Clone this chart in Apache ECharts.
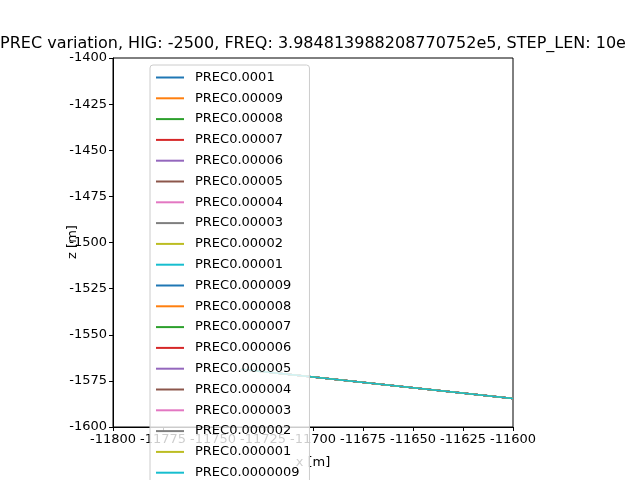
<!DOCTYPE html>
<html>
<head>
<meta charset="utf-8">
<script src="https://cdn.jsdelivr.net/npm/echarts@6/dist/echarts.min.js"></script>
<style>html,body{margin:0;padding:0;background:#fff}#chart{width:640px;height:480px}</style>
</head>
<body>
<div id="chart"></div>
<script>
var precNames = ['PREC0.0001','PREC0.00009','PREC0.00008','PREC0.00007','PREC0.00006',
    'PREC0.00005','PREC0.00004','PREC0.00003','PREC0.00002','PREC0.00001',
    'PREC0.000009','PREC0.000008','PREC0.000007','PREC0.000006','PREC0.000005',
    'PREC0.000004','PREC0.000003','PREC0.000002','PREC0.000001','PREC0.0000009'];
var xVals = [-11736, -11600];
var zVals = [-1568.7, -1584.5];
var colors = ['#1f77b4','#ff7f0e','#2ca02c','#d62728','#9467bd','#8c564b','#e377c2','#7f7f7f','#bcbd22','#17becf'];

var chart = echarts.init(document.getElementById('chart'));
var font = 'DejaVu Sans';

var series = precNames.map(function (name, i) {
    return {
        name: name,
        type: 'line',
        showSymbol: false,
        symbol: 'none',
        animation: false,
        lineStyle: {width: 1.5, color: colors[i % 10]},
        itemStyle: {color: colors[i % 10]},
        data: xVals.map(function (x, k) { return [x, zVals[k]]; })
    };
});

var axisCommon = {
    axisLine: {onZero: false, lineStyle: {color: '#000'}},
    axisTick: {inside: false, length: 4, lineStyle: {color: '#000'}},
    axisLabel: {color: '#000', fontFamily: font, fontSize: 13, margin: 6, formatter: function (v) { return String(v); }},
    splitLine: {show: false}
};

chart.setOption({
    animation: false,
    textStyle: {fontFamily: font},
    grid: {left: 113, right: 127, top: 58, bottom: 53, show: true, borderColor: '#000', borderWidth: 1, backgroundColor: 'transparent'},
    xAxis: Object.assign({type: 'value', min: -11800, max: -11600, interval: 25}, axisCommon),
    yAxis: Object.assign({type: 'value', min: -1600, max: -1400, interval: 25}, axisCommon),
    legend: {
        orient: 'vertical',
        left: 150, top: 65, height: 800,
        itemWidth: 28, itemHeight: 2, itemGap: 7.8,
        icon: 'rect',
        padding: [6, 10, 6, 6],
        backgroundColor: 'rgba(255,255,255,0.8)',
        borderColor: '#ccc', borderWidth: 1, borderRadius: 3,
        textStyle: {fontFamily: font, fontSize: 13, color: '#000', padding: [0, 0, 0, 6]},
        data: precNames
    },
    graphic: [
        {type: 'text', x: 313, y: 36, style: {text: 'PREC variation, HIG: -2500, FREQ: 3.984813988208770752e5, STEP_LEN: 10e', font: '16px DejaVu Sans', fill: '#000', textAlign: 'center'}, z: 100},
        {type: 'text', x: 313, y: 456, style: {text: 'x [m]', font: '13px DejaVu Sans', fill: '#000', textAlign: 'center'}, z: 1},
        {type: 'text', x: 73, y: 242, rotation: Math.PI / 2, style: {text: 'z [m]', font: '13px DejaVu Sans', fill: '#000', textAlign: 'center', textVerticalAlign: 'middle'}}
    ],
    series: series
});
</script>
</body>
</html>
